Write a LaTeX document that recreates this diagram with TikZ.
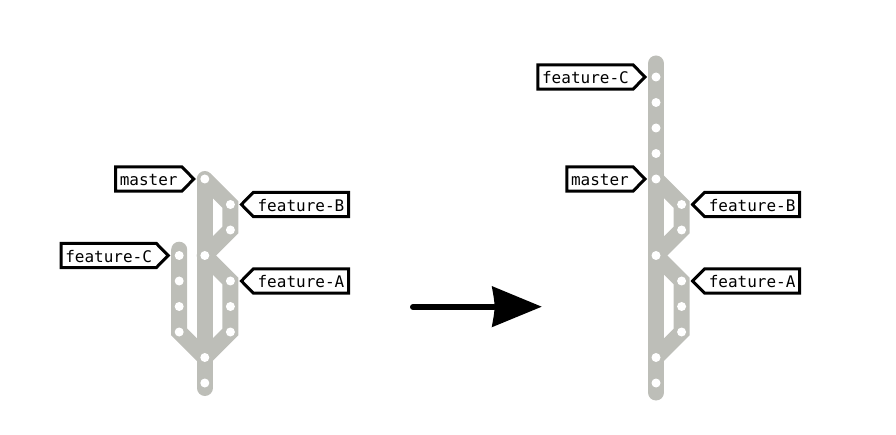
\documentclass[tikz,border=0pt]{standalone}
\usepackage{fontspec}
\setmonofont{DejaVu Sans Mono}
\usetikzlibrary{calc}
\pgfdeclarelayer{background}
\pgfsetlayers{background,main}
\definecolor{trackgray}{RGB}{189,190,184}
\tikzset{
  track/.style={draw=trackgray, line width=16, line cap=round, line join=miter},
  commit/.style={circle, fill=white, minimum size=9, inner sep=0},
  tagtext/.style={font=\ttfamily\fontsize{16}{19}\selectfont, inner xsep=4, inner ysep=0,
    minimum height=24, text height=13.2, text depth=0},
  tagline/.style={draw=black, line width=3, line join=miter, fill=white},
}
% right-pointing tag: tip on the right, towards its commit
\newcommand{\tagright}[1]{\draw[tagline] (#1.north west) -- (#1.north east) -- ($(#1.east)+(12,0)$) -- (#1.south east) -- (#1.south west) -- cycle;}
% left-pointing tag: tip on the left, towards its commit
\newcommand{\tagleft}[1]{\draw[tagline] (#1.north east) -- (#1.north west) -- ($(#1.west)+(-12,0)$) -- (#1.south west) -- (#1.south east) -- cycle;}
\begin{document}
\begin{tikzpicture}[x=1pt,y=-1pt]
\useasboundingbox (0,0) rectangle (896,435);

% ---------- before: three branches ----------
\node[commit] (m0) at (204.8,179) {};
\node[commit] (b1) at (230.4,204.5) {};
\node[commit] (b2) at (230.4,230) {};
\node[commit] (m3) at (204.8,255.5) {};
\node[commit] (a4) at (230.4,281) {};
\node[commit] (a5) at (230.4,306.5) {};
\node[commit] (a6) at (230.4,332) {};
\node[commit] (m7) at (204.8,357.5) {};
\node[commit] (m8) at (204.8,383) {};
\node[commit] (c3) at (179.2,255.5) {};
\node[commit] (c4) at (179.2,281) {};
\node[commit] (c5) at (179.2,306.5) {};
\node[commit] (c6) at (179.2,332) {};
\coordinate (mend) at (204.8,388);
\coordinate (cstart) at (179.2,249.7);

\begin{pgfonlayer}{background}
  \draw[track] (m0) -- (mend);
  \draw[track] (m0.center) -- (b1.center) -- (b2.center) -- (m3.center);
  \draw[track] (m3.center) -- (a4.center) -- (a6.center) -- (m7.center);
  \draw[track] (cstart) -- (c3.center) -- (c6.center) -- (m7.center);
\end{pgfonlayer}

\node[tagtext, anchor=east] (tmaster) at ($(m0)+(-23,0)$) {master};
\tagright{tmaster}
\node[tagtext] at (tmaster) {master};
\node[tagtext, anchor=west] (tb) at ($(b1)+(23,0)$) {feature-B};
\tagleft{tb}
\node[tagtext] at (tb) {feature-B};
\node[tagtext, anchor=east] (tc) at ($(c3)+(-23,0)$) {feature-C};
\tagright{tc}
\node[tagtext] at (tc) {feature-C};
\node[tagtext, anchor=west] (ta) at ($(a4)+(23,0)$) {feature-A};
\tagleft{ta}
\node[tagtext] at (ta) {feature-A};

% ---------- transition arrow ----------
\coordinate (arrowtail) at (413,307);
\coordinate (arrowbase) at (494,307);
\coordinate (arrowtip) at (541.7,306.7);
\draw[line width=6, line cap=round] (arrowtail) -- (arrowbase);
\fill (491.7,286) -- (arrowtip) -- (491.7,327.3) .. controls (495.5,306.7) .. (491.7,286) -- cycle;

% ---------- after: feature-C rebased onto master ----------
\node[commit] (rc) at (656,77) {};
\node[commit] (r1) at (656,102.5) {};
\node[commit] (r2) at (656,128) {};
\node[commit] (r3) at (656,153.5) {};
\node[commit] (rm0) at (656,179) {};
\node[commit] (rb1) at (681.6,204.5) {};
\node[commit] (rb2) at (681.6,230) {};
\node[commit] (rm3) at (656,255.5) {};
\node[commit] (ra4) at (681.6,281) {};
\node[commit] (ra5) at (681.6,306.5) {};
\node[commit] (ra6) at (681.6,332) {};
\node[commit] (rm7) at (656,357.5) {};
\node[commit] (rm8) at (656,383) {};
\coordinate (rstart) at (656,63.5);
\coordinate (rend) at (656,392.5);

\begin{pgfonlayer}{background}
  \draw[track] (rstart) -- (rend);
  \draw[track] (rm0.center) -- (rb1.center) -- (rb2.center) -- (rm3.center);
  \draw[track] (rm3.center) -- (ra4.center) -- (ra6.center) -- (rm7.center);
\end{pgfonlayer}

\node[tagtext, anchor=east] (rtc) at ($(rc)+(-23,0)$) {feature-C};
\tagright{rtc}
\node[tagtext] at (rtc) {feature-C};
\node[tagtext, anchor=east] (rtmaster) at ($(rm0)+(-23,0)$) {master};
\tagright{rtmaster}
\node[tagtext] at (rtmaster) {master};
\node[tagtext, anchor=west] (rtb) at ($(rb1)+(23,0)$) {feature-B};
\tagleft{rtb}
\node[tagtext] at (rtb) {feature-B};
\node[tagtext, anchor=west] (rta) at ($(ra4)+(23,0)$) {feature-A};
\tagleft{rta}
\node[tagtext] at (rta) {feature-A};
\end{tikzpicture}
\end{document}
